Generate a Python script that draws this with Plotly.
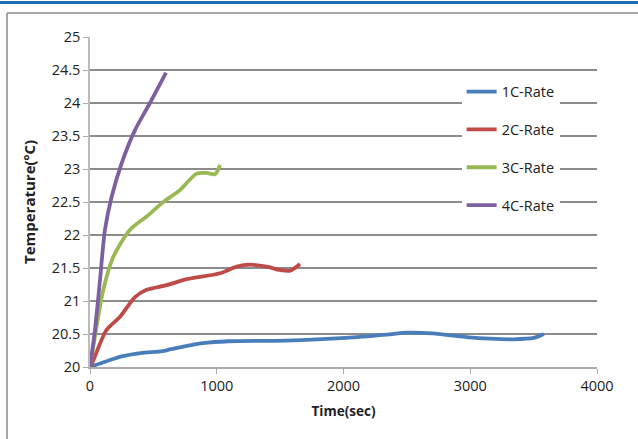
import plotly.graph_objects as go

# 1C-Rate
t1 = [0, 120, 250, 400, 570, 640, 890, 1090, 1540, 2020, 2340, 2500, 2700, 2990, 3150, 3340, 3500, 3580]
y1 = [20.0, 20.08, 20.16, 20.21, 20.24, 20.27, 20.36, 20.39, 20.40, 20.44, 20.49, 20.52, 20.51, 20.45, 20.43, 20.42, 20.44, 20.50]
# 2C-Rate
t2 = [0, 26, 130, 237, 355, 447, 605, 763, 1026, 1157, 1262, 1394, 1499, 1580, 1657]
y2 = [20.0, 20.1, 20.56, 20.76, 21.06, 21.17, 21.24, 21.33, 21.42, 21.52, 21.55, 21.52, 21.47, 21.46, 21.56]
# 3C-Rate
t3 = [0, 26, 105, 184, 316, 447, 578, 710, 841, 920, 986, 1026]
y3 = [20.0, 20.31, 21.17, 21.67, 22.08, 22.28, 22.5, 22.68, 22.93, 22.94, 22.92, 23.06]
# 4C-Rate
t4 = [0, 39, 79, 118, 171, 250, 355, 473, 600]
y4 = [20.0, 20.56, 21.32, 22.08, 22.58, 23.09, 23.59, 24.0, 24.46]

names = ["1C-Rate", "2C-Rate", "3C-Rate", "4C-Rate"]
colors = ["#4A7EBB", "#BE4B48", "#98B954", "#7D60A0"]
series = [(t1, y1), (t2, y2), (t3, y3), (t4, y4)]

x_ticks = [0, 1000, 2000, 3000, 4000]
y_ticks = [20, 20.5, 21, 21.5, 22, 22.5, 23, 23.5, 24, 24.5, 25]

FONT = "'Open Sans', 'Noto Sans', sans-serif"

fig = go.Figure()
for i, ((tx, ty), n, c) in enumerate(zip(series, names, colors)):
    fig.add_trace(go.Scatter(x=tx, y=ty, name=n, mode="lines",
                             line=dict(color=c, width=3.8, shape="spline", smoothing=0.8),
                             legendgroup=n))

fig.update_layout(
    width=638, height=439,
    margin=dict(l=90, r=41, t=37, b=72),
    paper_bgcolor="white", plot_bgcolor="white",
    font=dict(family=FONT, size=14, color="#222"),
    showlegend=True,
    legend=dict(x=0.733, y=0.883, xanchor="left", yanchor="top",
                bgcolor="white", borderwidth=0, tracegroupgap=16,
                font=dict(size=14.5, color="#222")),
    xaxis=dict(range=[0, 4000], tickvals=x_ticks, ticktext=[str(v) for v in x_ticks],
               showgrid=False, zeroline=False, showline=True, linecolor="#AAAAAA", linewidth=1.5,
               ticks="outside", ticklen=5, tickcolor="#AAAAAA", tickfont=dict(size=14.5),
               title=dict(text="<b>Time(sec)</b>", font=dict(size=13.5), standoff=12)),
    yaxis=dict(range=[20, 25], tickvals=y_ticks, ticktext=[f"{v:g}" for v in y_ticks],
               showgrid=True, gridcolor="#8C8C8C", gridwidth=1.5, zeroline=False,
               showline=True, linecolor="#BBBBBB", linewidth=1.5,
               ticks="outside", ticklen=5, tickcolor="#AAAAAA", tickfont=dict(size=14.5),
               title=dict(text="<b>Temperature(ºC)</b>", font=dict(size=15), standoff=12)),
)
px = lambda x: (x - 90) / 507
py = lambda y: (367 - y) / 330
fig.add_shape(type="line", xref="paper", yref="paper", x0=px(-5), x1=px(645), y0=py(2.5), y1=py(2.5),
              line=dict(color="#1F6CB4", width=3))
fig.add_shape(type="line", xref="paper", yref="paper", x0=px(7), x1=px(640), y0=py(13), y1=py(13),
              line=dict(color="#8A8A8A", width=1.5))
fig.add_shape(type="line", xref="paper", yref="paper", x0=px(7), x1=px(7), y0=py(13), y1=py(445),
              line=dict(color="#8A8A8A", width=1.5))

fig.write_html("out.html")
